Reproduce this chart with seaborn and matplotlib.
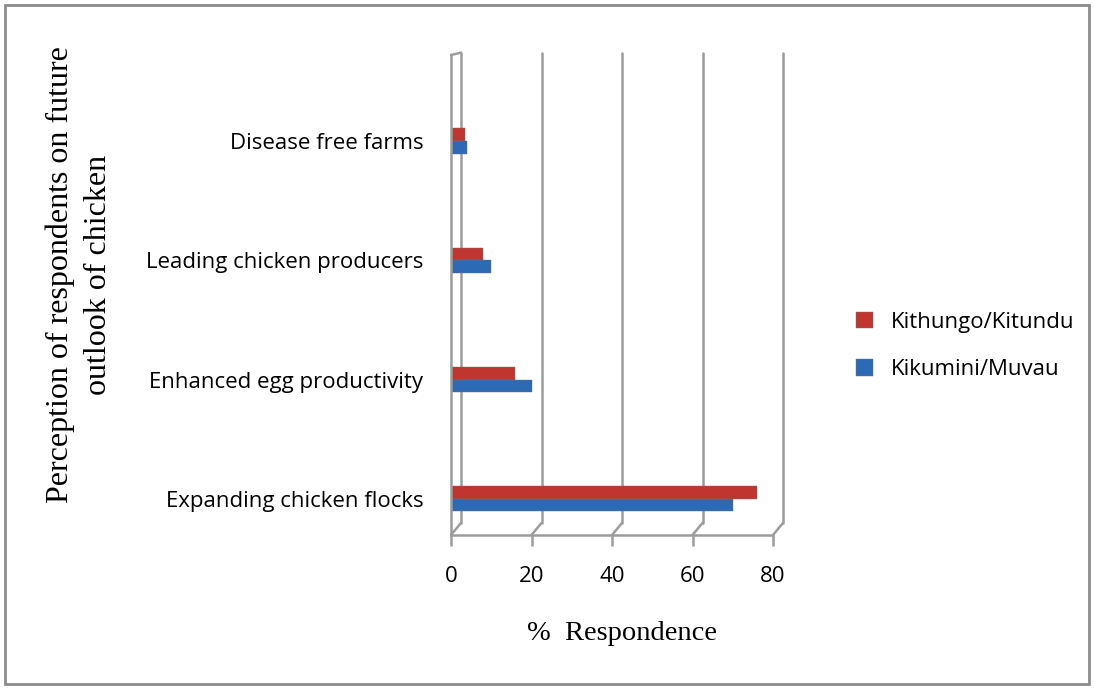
import matplotlib
matplotlib.use("Agg")
import matplotlib.pyplot as plt
import matplotlib.patches as mpatches
import seaborn as sns
import pandas as pd

# ── data ────────────────────────────────────────────────────
categories = ["Disease free farms", "Leading chicken producers",
              "Enhanced egg productivity", "Expanding chicken flocks"]
series = ["Kithungo/Kitundu", "Kikumini/Muvau"]
kithungo = [3.5, 8, 16, 76]
kikumini = [4, 10, 20, 70]
xticks = [0, 20, 40, 60, 80]

df = pd.DataFrame({
    "category": categories * 2,
    "series": [series[0]] * len(categories) + [series[1]] * len(categories),
    "value": kithungo + kikumini,
})

sns.set_theme(style="white")
plt.rcParams["font.family"] = ["Open Sans", "DejaVu Sans"]
plt.rcParams["text.color"] = "black"
plt.rcParams["xtick.labelcolor"] = "black"
plt.rcParams["ytick.labelcolor"] = "black"

W, H = 1094, 689
fig = plt.figure(figsize=(W / 100, H / 100), dpi=100)

# axes box in pixels: left 451, right 773, top 55, bottom 535
ax_l, ax_r, ax_t, ax_b = 451, 773, 55, 535
ax = fig.add_axes([ax_l / W, 1 - ax_b / H, (ax_r - ax_l) / W, (ax_b - ax_t) / H])

sns.barplot(data=df, y="category", x="value", hue="series",
            order=categories, hue_order=series,
            palette=["#C0352F", "#2D6AB5"], saturation=1, width=0.21,
            orient="h", edgecolor="#6f6f6f", linewidth=0.3, ax=ax)

ax.set_xlim(0, 80)
ax.set_ylim(3.302, -0.721)
ax.set_xticks(xticks)
ax.set_xticklabels([str(t) for t in xticks], fontsize=16)
ax.set_yticks(range(len(categories)))
ax.set_yticklabels(categories, fontsize=16)
ax.set_xlabel("")
ax.set_ylabel("")

gray = "#9c9c9c"
for s in ["top", "right"]:
    ax.spines[s].set_visible(False)
for s in ["left", "bottom"]:
    ax.spines[s].set_color(gray)
    ax.spines[s].set_linewidth(1.8)
ax.tick_params(axis="x", direction="out", length=8, width=1.8, color=gray,
               pad=14, bottom=True)
ax.tick_params(axis="y", length=0, pad=20)

# back wall of the pseudo-3D frame (10px right, 12px up)
dx = 10 / (ax_r - ax_l)
dy = 12 / (ax_b - ax_t)
for t in xticks:
    xf = t / 80
    ax.plot([xf + dx, xf + dx], [dy, 1 + dy - 0.02], transform=ax.transAxes,
            color=gray, lw=1.8, clip_on=False, zorder=0)
    ax.plot([xf, xf + dx], [0, dy], transform=ax.transAxes,
            color=gray, lw=1.8, clip_on=False, zorder=0)
ax.plot([0, dx], [1, 1 + dy - 0.02], transform=ax.transAxes,
        color=gray, lw=1.8, clip_on=False, zorder=0)

# legend on the right
handles, labels = ax.get_legend_handles_labels()
ax.get_legend().remove()
fig.legend(handles, labels, loc="center left",
           bbox_to_anchor=(836 / W, 1 - 346 / H), frameon=False,
           fontsize=16, handlelength=0.75, handleheight=0.75,
           labelspacing=1.2, handletextpad=0.8)

# axis titles
fig.text(60 / W, 1 - 275 / H, "Perception of respondents on future",
         rotation=90, ha="center", va="center", fontsize=23,
         family="Liberation Serif")
fig.text(98 / W, 1 - 275 / H, "outlook of chicken",
         rotation=90, ha="center", va="center", fontsize=23,
         family="Liberation Serif")
fig.text(622 / W, 1 - 633 / H, "%  Respondence", ha="center", va="center",
         fontsize=20.5, family="Liberation Serif")

# outer frame
fig.patches.append(mpatches.Rectangle((5 / W, 5 / H), 1 - 10 / W, 1 - 10 / H,
                                      transform=fig.transFigure, fill=False,
                                      edgecolor="#8c8c8c", lw=2))

fig.savefig("out.png", dpi=100)
